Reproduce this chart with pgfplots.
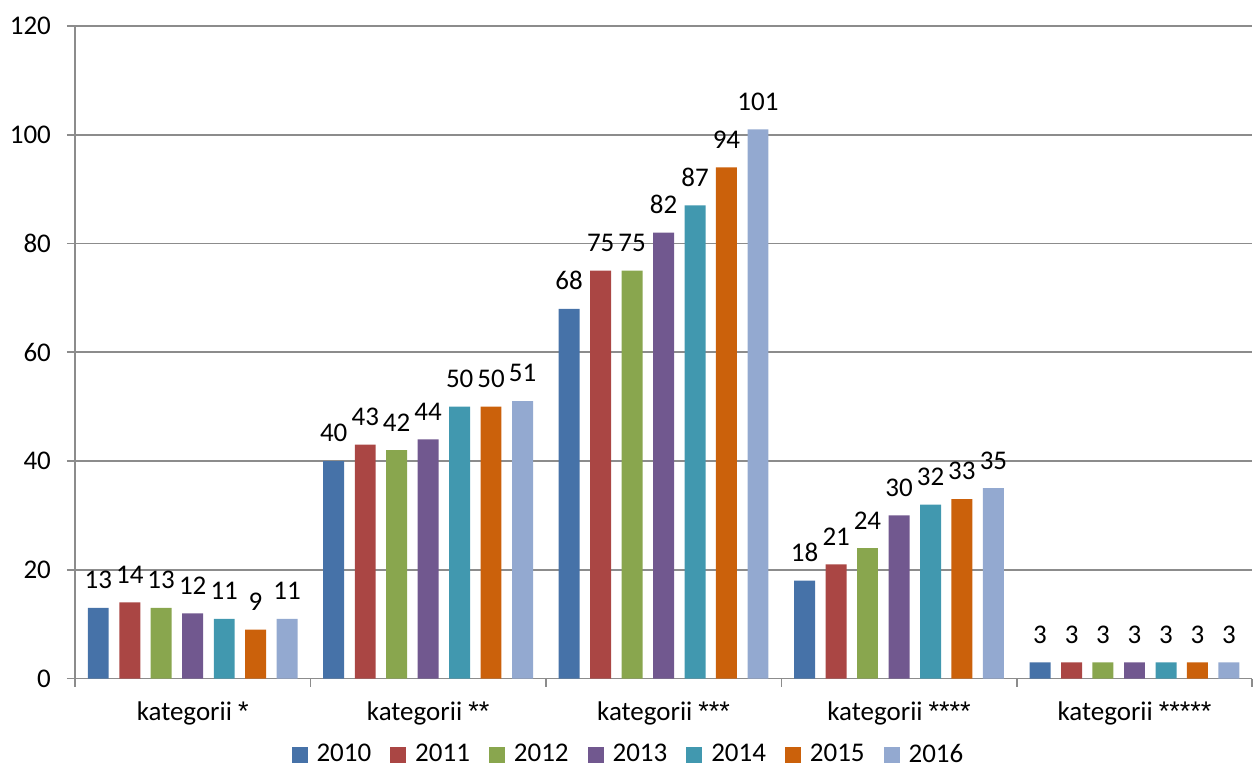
\documentclass[border=0pt]{standalone}
\usepackage{fontspec}
\setmainfont{Carlito}
\newfontfamily\astfont{Liberation Sans}
\newcommand\st[1]{{\astfont #1}}
\usepackage{pgfplots}
\pgfplotsset{compat=1.18}
\definecolor{c10}{HTML}{4672A8}
\definecolor{c11}{HTML}{AA4644}
\definecolor{c12}{HTML}{89A64E}
\definecolor{c13}{HTML}{71588F}
\definecolor{c14}{HTML}{4198AF}
\definecolor{c15}{HTML}{CB610B}
\definecolor{c16}{HTML}{93A9D0}
\definecolor{gridgray}{HTML}{8C8C8C}

\begin{document}
\begin{tikzpicture}[font=\fontsize{13.5pt}{16pt}\selectfont]
\begin{axis}[
  name=ax,
  scale only axis,
  width=589pt,height=326.5pt,
  ybar,
  bar width=0.089,
  xmin=-0.5,xmax=4.5,
  ymin=0,ymax=120,
  ytick={0,20,...,120},
  xtick={0,1,2,3,4},
  xticklabels={kategorii \st{*},kategorii \st{**},kategorii \st{***},kategorii \st{****},kategorii \st{*****}},
  major x tick style={draw=none},
  minor xtick={-0.5,0.5,1.5,2.5,3.5,4.5},
  minor x tick style={gridgray,thick},
  minor tick length=4pt,
  major tick length=4pt,
  tick align=outside,
  ytick style={gridgray,thick},
  axis x line*=bottom,
  axis y line*=left,
  axis line style={gridgray,thick,-},
  ymajorgrids,
  grid style={gridgray,thick},
  /pgf/number format/assume math mode=true,
  yticklabel style={xshift=-4.5pt},
  xticklabel style={yshift=-4pt},
  nodes near coords,
  nodes near coords style={yshift=6pt,black},
  legend columns=7,
  legend style={draw=none,inner sep=1pt,at={(0.471,0)},anchor=center,yshift=-38pt,
    /tikz/every even column/.append style={column sep=7.5pt}},
  legend image code/.code={\fill[#1] (0pt,-4pt) rectangle (8pt,4pt); \path (10.5pt,0pt);},
]
\addplot[fill=c10,draw=none,bar shift=-0.401] coordinates {(0,13)(1,40)(2,68)(3,18)(4,3)};
\addplot[fill=c11,draw=none,bar shift=-0.267] coordinates {(0,14)(1,43)(2,75)(3,21)(4,3)};
\addplot[fill=c12,draw=none,bar shift=-0.134] coordinates {(0,13)(1,42)(2,75)(3,24)(4,3)};
\addplot[fill=c13,draw=none,bar shift=0] coordinates {(0,12)(1,44)(2,82)(3,30)(4,3)};
\addplot[fill=c14,draw=none,bar shift=0.134] coordinates {(0,11)(1,50)(2,87)(3,32)(4,3)};
\addplot[fill=c15,draw=none,bar shift=0.267] coordinates {(0,9)(1,50)(2,94)(3,33)(4,3)};
\addplot[fill=c16,draw=none,bar shift=0.401] coordinates {(0,11)(1,51)(2,101)(3,35)(4,3)};
\legend{2010,2011,2012,2013,2014,2015,2016}
\end{axis}
\path (ax.north) ++(0,13pt);
\path (ax.south west) ++(-37.5pt,0);
\end{tikzpicture}
\end{document}
